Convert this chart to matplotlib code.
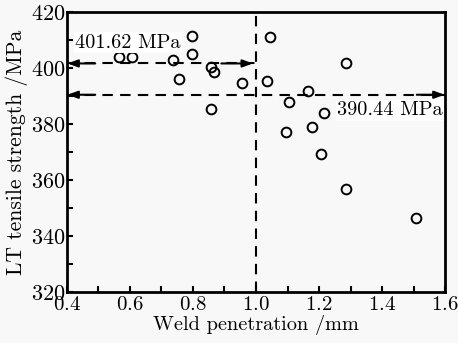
import matplotlib
matplotlib.use("Agg")
from matplotlib import pyplot as plt
from matplotlib.ticker import MultipleLocator

plt.rcParams['font.family'] = ['cmr10', 'DejaVu Serif']
plt.rcParams['axes.formatter.use_mathtext'] = True

penetration = [0.566, 0.606, 0.737, 0.797, 0.797, 0.757, 0.856, 0.867, 0.856, 0.956,
               1.044, 1.285, 1.036, 1.164, 1.105, 1.215, 1.095, 1.177, 1.205, 1.285, 1.506]
strength = [403.8, 404.0, 402.9, 411.5, 405.0, 396.0, 400.5, 398.7, 385.5, 394.5,
            411.0, 401.7, 395.4, 391.9, 387.7, 384.0, 377.1, 379.0, 369.2, 356.8, 346.5]
mean_low = 401.62
mean_high = 390.44
split = 1.0

fig = plt.figure(figsize=(4.58, 3.43), dpi=100, facecolor='#f8f8f8')
ax = fig.add_axes([0.146, 0.149, 0.826, 0.816])
ax.set_facecolor('#f8f8f8')

ax.plot(penetration, strength, 'o', ms=7, mfc='none', mec='black', mew=1.4)

dash = (0, (5, 3.5))
ax.plot([0.4, split], [mean_low, mean_low], color='black', lw=1.5, linestyle=dash)
ax.plot([0.4, 1.6], [mean_high, mean_high], color='black', lw=1.5, linestyle=dash)
ax.plot([split, split], [320, 420], color='black', lw=1.5, linestyle=dash)

arrow = dict(arrowstyle='-|>,head_length=0.6,head_width=0.22', color='black', lw=1.5,
             shrinkA=0, shrinkB=0)
ax.annotate('', xy=(0.402, mean_low), xytext=(0.49, mean_low), arrowprops=arrow)
ax.annotate('', xy=(0.99, mean_low), xytext=(0.89, mean_low), arrowprops=arrow)
ax.annotate('', xy=(0.402, mean_high), xytext=(0.49, mean_high), arrowprops=arrow)
ax.annotate('', xy=(1.598, mean_high), xytext=(1.51, mean_high), arrowprops=arrow)

ax.text(0.427, 409.0, '401.62 MPa', fontsize=14.6, va='center', ha='left',
        bbox=dict(facecolor='white', edgecolor='none', pad=1))
ax.text(1.592, 384.8, '390.44 MPa', fontsize=14.6, va='center', ha='right',
        bbox=dict(facecolor='white', edgecolor='none', pad=1))

ax.set_xlim(0.4, 1.6)
ax.set_ylim(320, 420)
ax.xaxis.set_major_locator(MultipleLocator(0.2))
ax.xaxis.set_minor_locator(MultipleLocator(0.1))
ax.yaxis.set_major_locator(MultipleLocator(20))
ax.yaxis.set_minor_locator(MultipleLocator(10))
ax.tick_params(which='both', direction='in', length=4, width=1.5, pad=1)
ax.tick_params(axis='x', labelsize=15, pad=3)
ax.tick_params(axis='y', labelsize=16)
for s in ax.spines.values():
    s.set_linewidth(2)

ax.set_xlabel('Weld penetration /mm', fontsize=14.6, labelpad=1)
ax.set_ylabel('LT tensile strength /MPa', fontsize=15.5, labelpad=2)

fig.savefig('out.png', dpi=100, facecolor=fig.get_facecolor())
